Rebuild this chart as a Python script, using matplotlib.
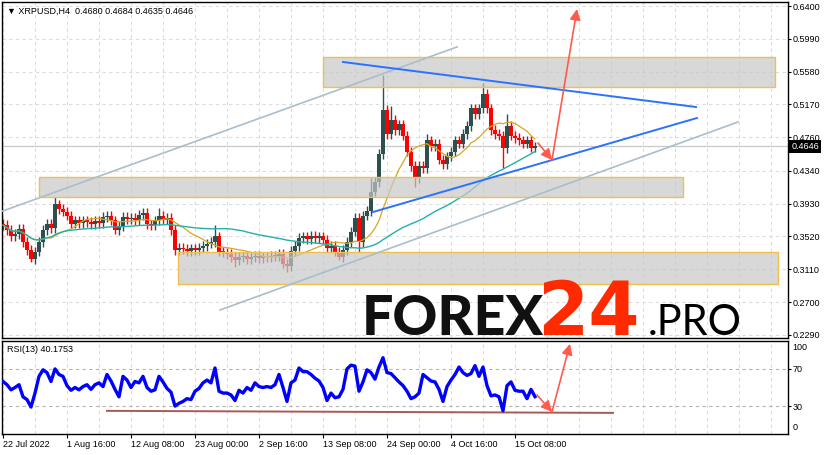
import numpy as np
import pandas as pd
import matplotlib
matplotlib.use("Agg")
import matplotlib.pyplot as plt
from matplotlib.patches import Rectangle
from matplotlib.transforms import blended_transform_factory

plt.rcParams['font.family'] = ['Liberation Sans', 'DejaVu Sans']

# XRPUSD H4 closes, one value every 4 bars
closes = [
    0.366, 0.360, 0.352, 0.355, 0.361, 0.345, 0.335, 0.324, 0.333, 0.345,
    0.360, 0.368, 0.362, 0.392, 0.386, 0.383, 0.378, 0.368, 0.372, 0.369,
    0.372, 0.370, 0.367, 0.371, 0.369, 0.376, 0.378, 0.372, 0.360, 0.365,
    0.376, 0.374, 0.375, 0.372, 0.379, 0.381, 0.367, 0.366, 0.372, 0.378,
    0.373, 0.375, 0.360, 0.335, 0.338, 0.336, 0.334, 0.337, 0.335, 0.338,
    0.340, 0.343, 0.345, 0.352, 0.333, 0.332, 0.330, 0.326, 0.322, 0.326,
    0.327, 0.324, 0.326, 0.328, 0.325, 0.327, 0.326, 0.328, 0.327, 0.330,
    0.318, 0.315, 0.334, 0.340, 0.350, 0.352, 0.349, 0.353, 0.350, 0.352,
    0.348, 0.338, 0.340, 0.333, 0.326, 0.335, 0.345, 0.358, 0.375, 0.345,
    0.378, 0.384, 0.408, 0.420, 0.455, 0.510, 0.480, 0.498, 0.485, 0.492,
    0.478, 0.458, 0.440, 0.425, 0.440, 0.437, 0.472, 0.465, 0.468, 0.448,
    0.442, 0.452, 0.458, 0.472, 0.468, 0.480, 0.490, 0.512, 0.505, 0.512,
    0.530, 0.512, 0.485, 0.480, 0.478, 0.462, 0.490, 0.478, 0.475, 0.472,
    0.468, 0.472, 0.463, 0.4646,
]
first_open = 0.368
# long wicks
spike_highs = {13: 0.401, 35: 0.387, 39: 0.387, 53: 0.366, 92: 0.425,
               95: 0.554, 97: 0.515, 106: 0.480, 120: 0.544, 126: 0.505}
spike_lows = {7: 0.320, 28: 0.355, 58: 0.314, 71: 0.307, 84: 0.323,
              89: 0.333, 103: 0.414, 125: 0.4375}

rsi = [
    56.5, 53, 47.5, 50, 53, 40, 37, 29, 44, 62,
    69, 66, 56.5, 70, 64, 62, 52, 47, 50, 47.5,
    51, 53, 48, 53, 55, 51, 64, 57, 48, 40,
    62, 58, 50, 56.5, 55, 62, 50, 46, 47.5, 62,
    56, 49, 45, 30, 33, 35, 38, 37, 46, 49,
    55, 58, 55, 71, 46, 44, 44, 42, 36, 47,
    44, 50, 47, 55, 51, 50, 51, 50, 53, 64,
    50, 35, 55, 58, 71, 67, 67, 64, 60, 57,
    50, 36, 44, 39, 40, 48, 70, 74, 73, 46,
    56, 69, 66, 59, 72, 82, 66, 65, 60.5, 56,
    52, 46, 38, 40, 44, 64, 60.5, 57, 56, 48,
    35, 51, 58, 64, 72, 66, 63, 65, 73.5, 62,
    72, 52, 41, 42, 40, 25, 52, 56, 47, 46,
    46, 38, 48, 40.2,
]

price_ticks = [0.6400, 0.5990, 0.5580, 0.5170, 0.4760, 0.4340,
               0.3930, 0.3520, 0.3110, 0.2700, 0.2290]
date_bars = [0, 64, 128, 192, 256, 320, 384, 448, 512]
date_labels = ["22 Jul 2022", "1 Aug 16:00", "12 Aug 08:00", "23 Aug 00:00",
               "2 Sep 16:00", "13 Sep 08:00", "24 Sep 00:00", "4 Oct 16:00",
               "15 Oct 08:00"]
last_price = 0.4646

step = 4
bars = np.arange(len(closes)) * step
c = np.array(closes)
o = np.r_[first_open, c[:-1]]
hi = np.maximum(o, c) + 0.006
lo = np.minimum(o, c) - 0.006
for k, v in spike_highs.items():
    hi[k] = v
for k, v in spike_lows.items():
    lo[k] = v
up = c >= o
cols = np.where(up, '#2F4F4F', '#FF0000')

s = pd.Series(c)
ma_fast = s.rolling(12, min_periods=1).mean()
ma_slow = s.rolling(48, min_periods=1).mean()

fig = plt.figure(figsize=(8.28, 4.55), dpi=100)
ax = fig.add_axes([2/828, 1-338/455, 786/828, 336/455])
ax2 = fig.add_axes([2/828, 1-434/455, 786/828, 93/455])

grid_kw = dict(color='#DCDCDC', lw=0.8, ls=(0, (3, 3)), zorder=0)
for a in (ax, ax2):
    a.set_xlim(-1, 785)
    for b in range(0, 785, 32):
        a.axvline(b, **grid_kw)
    for sp in a.spines.values():
        sp.set_linewidth(1.0)
        sp.set_color('black')
for p in price_ticks:
    ax.axhline(p, **grid_kw)

ax.set_ylim(0.225, 0.645)
ax.axhline(last_price, color='#C8C8C8', lw=0.9, zorder=1)

# candles
ax.vlines(bars, lo, hi, colors=cols, lw=1.0, zorder=2)
body = np.maximum(np.abs(c - o), 0.0012)
ax.bar(bars, body, bottom=np.minimum(o, c), width=3.3, color=cols,
       linewidth=0, zorder=2)

ax.plot(bars, ma_fast, color='#DAA520', lw=0.9, zorder=3)
ax.plot(bars, ma_slow, color='#20B2AA', lw=1.0, zorder=3)

# support / resistance zones
for x0, x1, p0, p1 in [(320, 772, 0.5388, 0.5763),
                       (36, 680, 0.4013, 0.4263),
                       (175, 775, 0.2925, 0.3325)]:
    ax.add_patch(Rectangle((x0, p0), x1 - x0, p1 - p0, facecolor='#C8C8C8',
                           alpha=0.7, edgecolor='none', zorder=4))
    ax.add_patch(Rectangle((x0, p0), x1 - x0, p1 - p0, fill=False,
                           edgecolor='#EFC050', lw=1.0, zorder=4))

# channel + triangle lines
ax.plot([-3, 454], [0.3825, 0.5888], color='#A9BECD', lw=1.2, zorder=5)
ax.plot([217, 735], [0.26, 0.495], color='#A9BECD', lw=1.2, zorder=5)
ax.plot([340, 693], [0.570, 0.51375], color='#2A72FF', lw=1.4, zorder=5)
ax.plot([370, 694], [0.3825, 0.500], color='#2A72FF', lw=1.4, zorder=5)

arrow_kw = dict(arrowstyle='-|>', color='#FF5A4E', lw=1.2,
                mutation_scale=16, shrinkA=0, shrinkB=0)
ax.annotate('', xy=(549, 0.4475), xytext=(535, 0.46875), arrowprops=arrow_kw, zorder=6)
ax.annotate('', xy=(574, 0.6362), xytext=(549, 0.4475), arrowprops=arrow_kw, zorder=6)

ax.yaxis.tick_right()
ax.set_yticks(price_ticks)
ax.set_yticklabels([f"{p:.4f}" for p in price_ticks])
ax.tick_params(axis='y', direction='out', length=2, pad=1.5, labelsize=6.5, width=0.8)
ax.tick_params(axis='x', bottom=False, labelbottom=False)
ax.set_xticks([])

tr = blended_transform_factory(ax.transAxes, ax.transData)
ax.text(1.004, last_price, f"{last_price:.4f}", transform=tr, color='white',
        fontsize=6.5, va='center', ha='left', clip_on=False, zorder=10,
        bbox=dict(facecolor='black', edgecolor='none', pad=1.6))

ax.text(5/786, (338-13.5)/336, "\u25bc XRPUSD,H4  0.4680 0.4684 0.4635 0.4646",
        transform=ax.transAxes, fontsize=6.5, va='baseline', ha='left')

# watermark
fig.text(362/828, 1-335/455, "FOREX", fontsize=40, family='Lato',
         fontweight='black', color='#111111', va='baseline', ha='left')
fig.text(537/828, 1-335/455, "24", fontsize=53, family='DejaVu Sans',
         fontweight='bold', color='#FF2A00', va='baseline', ha='left')
fig.text(648/828, 1-335/455, ".PRO", fontsize=30, family='Lato',
         fontweight='normal', color='#000000', va='baseline', ha='left')

# RSI panel
ax2.set_ylim(0, 100)
rsi_bars = np.arange(len(rsi)) * step
ax2.plot(rsi_bars, rsi, color='#0000FF', lw=2.4, zorder=3)
for lvl in (70, 30):
    ax2.axhline(lvl, color='#B4B4B4', lw=0.8, ls=(0, (3, 3)), zorder=1)
ax2.plot([104, 610], [24.9, 22.7], color='#A85A55', lw=1.4, zorder=2)
ax2.annotate('', xy=(549, 23.8), xytext=(534, 42), arrowprops=arrow_kw, zorder=6)
ax2.annotate('', xy=(567, 97), xytext=(549, 23.8), arrowprops=arrow_kw, zorder=6)

ax2.yaxis.tick_right()
ax2.set_yticks([70, 30])
ax2.set_yticklabels(['70', '30'])
ax2.tick_params(axis='y', direction='out', length=2, pad=1.5, labelsize=6.5, width=0.8)
tr2 = blended_transform_factory(ax2.transAxes, ax2.transData)
ax2.text(1.006, 93.5, "100", transform=tr2, fontsize=6.5, va='center', ha='left', clip_on=False)
ax2.text(1.006, 6.5, "0", transform=tr2, fontsize=6.5, va='center', ha='left', clip_on=False)

ax2.set_xticks(date_bars)
ax2.set_xticklabels(date_labels)
for lab in ax2.get_xticklabels():
    lab.set_ha('left')
ax2.tick_params(axis='x', direction='out', length=3, pad=1.5, labelsize=6.5, width=0.8)

ax2.text(5/786, (434-352)/93, "RSI(13) 40.1753", transform=ax2.transAxes,
         fontsize=6.5, va='baseline', ha='left')

fig.savefig("out.png", dpi=100)
